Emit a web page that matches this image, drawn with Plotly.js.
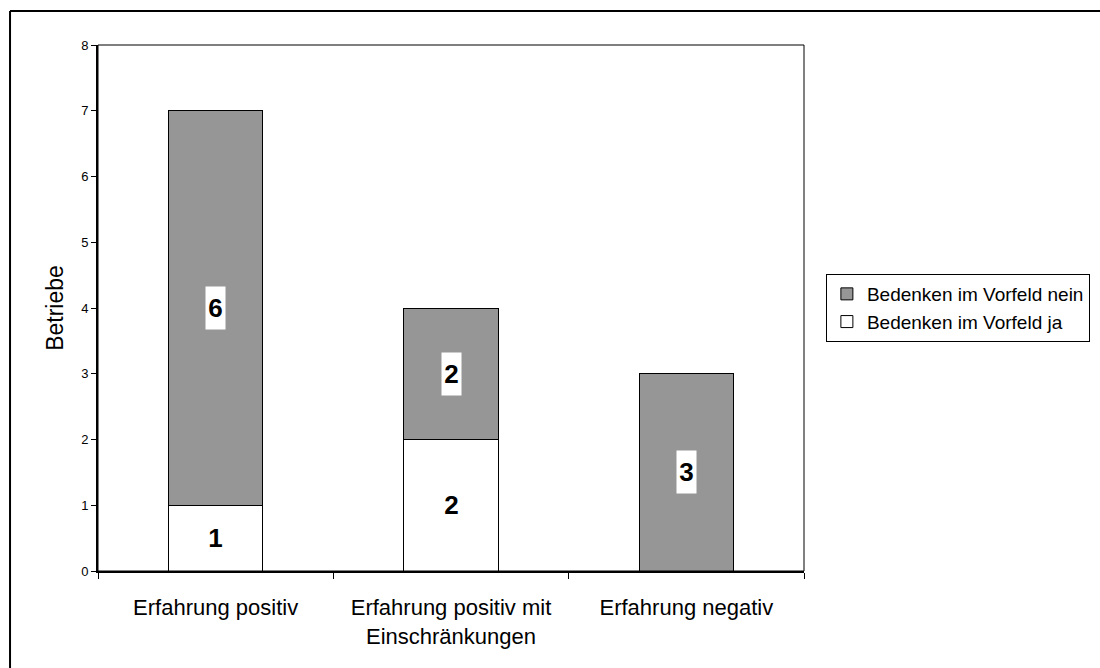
<!DOCTYPE html>
<html>
<head>
<meta charset="utf-8">
<script src="https://cdn.plot.ly/plotly-3.0.1.min.js"></script>
<style>html,body{margin:0;padding:0;background:#fff;}#chart{width:1100px;height:668px;}</style>
</head>
<body>
<div id="chart"></div>
<script>
const categories = ["Erfahrung positiv", "Erfahrung positiv mit<br>Einschränkungen", "Erfahrung negativ"];
const seriesJa = [1, 2, 0];
const seriesNein = [6, 2, 3];
const nameJa = "Bedenken im Vorfeld ja";
const nameNein = "Bedenken im Vorfeld nein";
const yTicks = [0, 1, 2, 3, 4, 5, 6, 7, 8];

const FONT = "Liberation Sans, Arial, sans-serif";

const traces = [
  {type: "bar", name: nameJa, x: categories, y: seriesJa, width: 0.4,
   marker: {color: "#ffffff", line: {color: "#000000", width: 1}}, hoverinfo: "none"},
  {type: "bar", name: nameNein, x: categories, y: seriesNein, width: 0.4,
   marker: {color: "#969696", line: {color: "#000000", width: 1}}, hoverinfo: "none"}
];

const annotations = [];
categories.forEach((c, i) => {
  if (seriesJa[i] > 0) annotations.push({x: c, y: seriesJa[i] / 2, text: String(seriesJa[i])});
  if (seriesNein[i] > 0) annotations.push({x: c, y: seriesJa[i] + seriesNein[i] / 2, text: String(seriesNein[i])});
});
annotations.forEach(a => {
  a.xref = "x"; a.yref = "y"; a.showarrow = false;
  a.bgcolor = "#ffffff"; a.width = 19; a.height = 42; a.borderpad = 0;
  a.font = {family: FONT, size: 26, color: "#000000", weight: "bold"};
});

const layout = {
  width: 1100, height: 668,
  margin: {l: 98, r: 296, t: 45, b: 97, pad: 0, autoexpand: false},
  paper_bgcolor: "#ffffff", plot_bgcolor: "#ffffff",
  barmode: "stack",
  showlegend: true,
  font: {family: FONT, color: "#000000"},
  legend: {x: 1.031, y: 0.5646, xanchor: "left", yanchor: "top",
           bordercolor: "#000000", borderwidth: 1, bgcolor: "#ffffff",
           traceorder: "reversed", font: {family: FONT, size: 19, color: "#000000"},
           itemwidth: 30, tracegroupgap: 0},
  xaxis: {type: "category", range: [-0.5, 2.5], tickson: "boundaries",
          ticks: "outside", ticklen: 6, tickwidth: 1, tickcolor: "#000000",
          showline: true, linecolor: "#000000", linewidth: 2, showgrid: false,
          zeroline: false, ticklabelstandoff: 16,
          tickfont: {family: FONT, size: 22, color: "#000000"}},
  yaxis: {range: [0, 8], tickvals: yTicks, ticktext: yTicks.map(String),
          ticks: "outside", ticklen: 5, tickwidth: 1, tickcolor: "#000000",
          showline: true, linecolor: "#000000", linewidth: 2, showgrid: false,
          zeroline: false, tickfont: {family: FONT, size: 13, color: "#000000"},
          title: {text: "Betriebe", font: {family: FONT, size: 23, color: "#000000"}, standoff: 11}},
  annotations: annotations,
  shapes: [
    {type: "rect", xref: "paper", yref: "paper", x0: 0, x1: 1, y0: 0, y1: 1,
     line: {color: "#000000", width: 1}, fillcolor: "rgba(0,0,0,0)", layer: "above"},
    {type: "line", xref: "paper", yref: "paper", x0: -0.1246, x1: 1.6, y0: 1.0646, y1: 1.0646,
     line: {color: "#000000", width: 2}},
    {type: "line", xref: "paper", yref: "paper", x0: -0.1246, x1: -0.1246, y0: -0.3, y1: 1.0646,
     line: {color: "#000000", width: 2}}
  ]
};

Plotly.newPlot("chart", traces, layout, {displayModeBar: false, staticPlot: true});
</script>
</body>
</html>
